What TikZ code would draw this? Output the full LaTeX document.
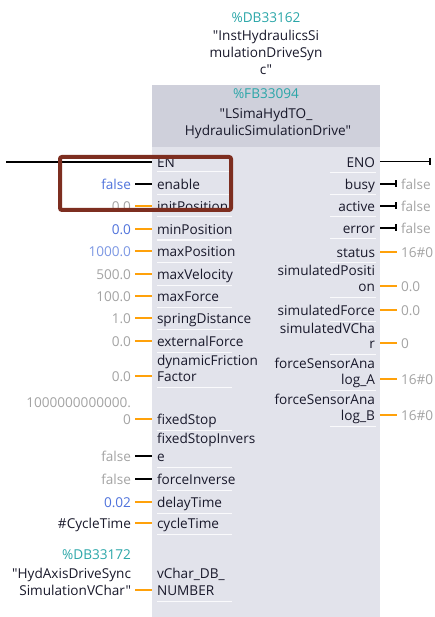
\documentclass[tikz,border=0pt]{standalone}
\usepackage{fontspec}
\setmainfont{Open Sans}[Ligatures=TeXOff]
\usetikzlibrary{arrows.meta}
\definecolor{hdr}{HTML}{CFD0DB}
\definecolor{bodyc}{HTML}{E2E3EB}
\definecolor{dbteal}{HTML}{2AA6A8}
\definecolor{valblue}{HTML}{4F72DB}
\definecolor{valblue2}{HTML}{7C97E3}
\definecolor{valgrey}{HTML}{A3A3A3}
\definecolor{wirec}{HTML}{FFA10A}
\definecolor{txt}{HTML}{18182A}
\definecolor{redbox}{HTML}{7D2E20}
\begin{document}
\begin{tikzpicture}[x=1pt,y=-1pt,
  font=\fontsize{13.6}{16}\selectfont,
  every node/.style={inner sep=0pt, outer sep=0pt, yshift=-0.7pt},
  lab/.style={anchor=base west, text=txt},
  rlab/.style={anchor=base east, text=txt},
  ctr/.style={anchor=base, text=txt},
  lval/.style={anchor=base east},
  rval/.style={anchor=base west, text=valgrey},
  ow/.style={wirec, line width=1.8pt},
  bw/.style={black, line width=1.8pt},
  tw/.style={black, line width=1.8pt, -{Bar[width=7pt,line width=2pt]}},
  sep/.style={white, line width=1pt, opacity=0.85}]
\useasboundingbox (0,0) rectangle (435,617);
% block
\fill[bodyc] (152,85) rectangle (380,617);
\fill[hdr] (152,85) rectangle (380,147);
% instance DB
\node[ctr, text=dbteal] (idb) at (266,21.5) {\%DB33162};
\node[ctr] (idb1) at (266,39.5) {"InstHydraulicsSi};
\node[ctr] (idb2) at (266,56.5) {mulationDriveSyn};
\node[ctr] (idb3) at (266,73.5) {c"};
% header
\node[ctr, text=dbteal] (fb) at (266,97.5) {\%FB33094};
\node[ctr] (fb1) at (266,117.5) {"LSimaHydTO\_};
\node[ctr] (fb2) at (268,134.5) {HydraulicSimulationDrive"};
% separators left
\foreach \y in {172,195,217,240,262,285,307,329,352,387,430,467,490,513,534,601}
  \draw[sep] (157,\y) -- (232,\y);
% separators right
\foreach \y in {173,195,217,239,262,297,321,354,390,426}
  \draw[sep] (330,\y) -- (376,\y);
% ---------- left pins ----------
\coordinate (enS) at (6,161.5);
\coordinate (enP) at (152,161.5);
\draw[bw] (enS) -- (enP);
\node[lab] (en) at (157,166.5) {EN};

\node[lval, text=valblue] (v1) at (131,188.5) {false};
\node[lab] (l1) at (157,188.5) {enable};
\draw[bw] (135,184) coordinate (w1) -- (152,184) coordinate (p1);

\node[lval, text=valgrey] (v2) at (131,210.5) {0.0};
\node[lab] (l2) at (157,210.5) {initPosition};
\draw[ow] (135,206) coordinate (w2) -- (152,206) coordinate (p2);

\node[lval, text=valblue] (v3) at (131,233.5) {0.0};
\node[lab] (l3) at (157,233.5) {minPosition};
\draw[ow] (135,229) coordinate (w3) -- (152,229) coordinate (p3);

\node[lval, text=valblue2] (v4) at (131,255.5) {1000.0};
\node[lab] (l4) at (157,255.5) {maxPosition};
\draw[ow] (135,251) coordinate (w4) -- (152,251) coordinate (p4);

\node[lval, text=valgrey] (v5) at (131,278.5) {500.0};
\node[lab] (l5) at (157,278.5) {maxVelocity};
\draw[ow] (135,274) coordinate (w5) -- (152,274) coordinate (p5);

\node[lval, text=valgrey] (v6) at (131,300.5) {100.0};
\node[lab] (l6) at (157,300.5) {maxForce};
\draw[ow] (135,296) coordinate (w6) -- (152,296) coordinate (p6);

\node[lval, text=valgrey] (v7) at (131,322.5) {1.0};
\node[lab] (l7) at (157,322.5) {springDistance};
\draw[ow] (135,318) coordinate (w7) -- (152,318) coordinate (p7);

\node[lval, text=valgrey] (v8) at (131,345.5) {0.0};
\node[lab] (l8) at (157,345.5) {externalForce};
\draw[ow] (135,341) coordinate (w8) -- (152,341) coordinate (p8);

\node[lab] (l9a) at (157,364.5) {dynamicFriction};
\node[lab] (l9) at (157,380.5) {Factor};
\node[lval, text=valgrey] (v9) at (131,380.5) {0.0};
\draw[ow] (135,376) coordinate (w9) -- (152,376) coordinate (p9);

\node[lval, text=valgrey] (v10a) at (131,406.5) {1000000000000.};
\node[lval, text=valgrey] (v10) at (131,423.5) {0};
\node[lab] (l10) at (157,423.5) {fixedStop};
\draw[ow] (135,419) coordinate (w10) -- (152,419) coordinate (p10);

\node[lab] (l11a) at (157,442.5) {fixedStopInvers};
\node[lab] (l11) at (157,460.5) {e};
\node[lval, text=valgrey] (v11) at (131,460.5) {false};
\draw[bw] (135,456) coordinate (w11) -- (152,456) coordinate (p11);

\node[lval, text=valgrey] (v12) at (131,483.5) {false};
\node[lab] (l12) at (157,483.5) {forceInverse};
\draw[bw] (135,479) coordinate (w12) -- (152,479) coordinate (p12);

\node[lval, text=valblue] (v13) at (131,506.5) {0.02};
\node[lab] (l13) at (157,506.5) {delayTime};
\draw[ow] (135,502) coordinate (w13) -- (152,502) coordinate (p13);

\node[lval, text=txt] (v14) at (131,527.5) {\#CycleTime};
\node[lab] (l14) at (157,527.5) {cycleTime};
\draw[ow] (135,523) coordinate (w14) -- (152,523) coordinate (p14);

\node[lval, text=dbteal] (v15b) at (131,558.5) {\%DB33172};
\node[lval, text=txt] (v15a) at (131,577.5) {"HydAxisDriveSync};
\node[lval, text=txt] (v15) at (131,594.5) {SimulationVChar"};
\node[lab] (l15a) at (157,577.5) {vChar\_DB\_};
\node[lab] (l15) at (157,594.5) {NUMBER};
\draw[ow] (135,590) coordinate (w15) -- (152,590) coordinate (p15);

% ---------- right pins ----------
\node[rlab] (eno) at (375,166.5) {ENO};
\draw[tw] (380,161.5) coordinate (enoP) -- (431,161.5) coordinate (enoE);

\node[rlab] (r1) at (375,188.5) {busy};
\draw[tw] (380,184) coordinate (q1) -- (397,184) coordinate (e1);
\node[rval] (o1) at (401,188.5) {false};

\node[rlab] (r2) at (375,210.5) {active};
\draw[tw] (380,206) coordinate (q2) -- (397,206) coordinate (e2);
\node[rval] (o2) at (401,210.5) {false};

\node[rlab] (r3) at (375,232.5) {error};
\draw[tw] (380,228) coordinate (q3) -- (397,228) coordinate (e3);
\node[rval] (o3) at (401,232.5) {false};

\node[rlab] (r4) at (375,256.5) {status};
\draw[ow] (380,252) coordinate (q4) -- (397,252) coordinate (e4);
\node[rval] (o4) at (401,256.5) {16\#0};

\node[rlab] (r5a) at (375,274.5) {simulatedPositi};
\node[rlab] (r5) at (375,290.5) {on};
\draw[ow] (380,286) coordinate (q5) -- (397,286) coordinate (e5);
\node[rval] (o5) at (401,290.5) {0.0};

\node[rlab] (r6) at (375,314.5) {simulatedForce};
\draw[ow] (380,310) coordinate (q6) -- (397,310) coordinate (e6);
\node[rval] (o6) at (401,314.5) {0.0};

\node[rlab] (r7a) at (375,332.5) {simulatedVCha};
\node[rlab] (r7) at (375,347.5) {r};
\draw[ow] (380,343) coordinate (q7) -- (397,343) coordinate (e7);
\node[rval] (o7) at (401,347.5) {0};

\node[rlab] (r8a) at (375,367.5) {forceSensorAna};
\node[rlab] (r8) at (375,383.5) {log\_A};
\draw[ow] (380,379) coordinate (q8) -- (397,379) coordinate (e8);
\node[rval] (o8) at (401,383.5) {16\#0};

\node[rlab] (r9a) at (375,403.5) {forceSensorAna};
\node[rlab] (r9) at (375,419.5) {log\_B};
\draw[ow] (380,415) coordinate (q9) -- (397,415) coordinate (e9);
\node[rval] (o9) at (401,419.5) {16\#0};

% highlight box
\draw[redbox, line width=4pt, rounded corners=2pt] (60,157) rectangle (231,210);
\end{tikzpicture}
\end{document}
